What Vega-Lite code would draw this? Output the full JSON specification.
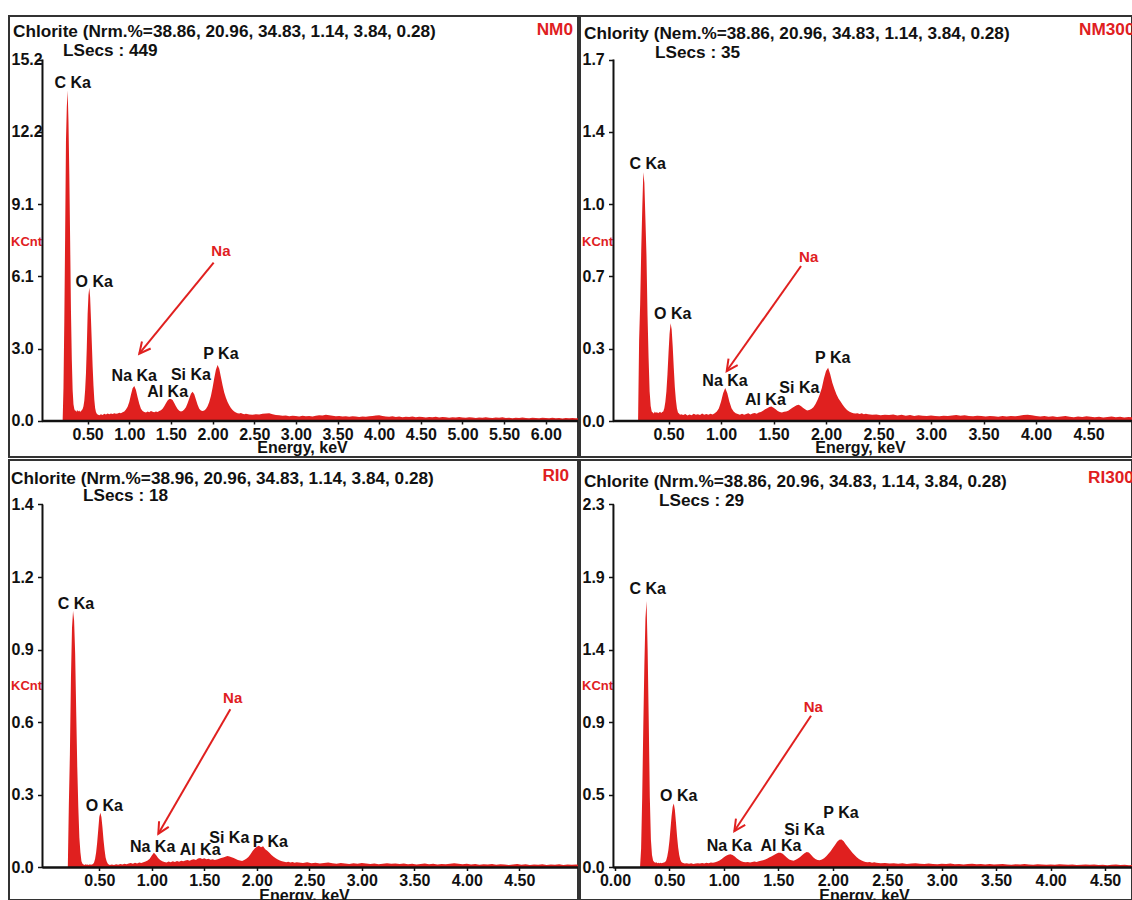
{
"$schema": "https://vega.github.io/schema/vega-lite/v6.json",
"padding": {"left": 8, "top": 15, "right": 0, "bottom": 0},
"background": "white",
"config": {
  "font": "Liberation Sans",
  "view": {"stroke": "#333333", "strokeWidth": 2},
  "axis": {"grid": false, "domain": false, "labelFont": "Liberation Sans", "labelFontSize": 16, "labelFontWeight": "bold", "labelColor": "#111111", "tickColor": "#111111", "tickWidth": 1.5, "labelFlush": false, "labelOverlap": false, "titleFont": "Liberation Sans", "titleFontWeight": "bold"},
  "axisX": {"tickSize": 3, "labelPadding": 2, "format": ".2f", "titleFontSize": 16, "titleColor": "#111111", "titlePadding": -3},
  "axisY": {"tickSize": 5, "labelAlign": "left", "labelPadding": 26.5, "labelBaseline": "middle", "format": ".1f", "titleAngle": 0, "titleAlign": "left", "titleBaseline": "middle", "titleColor": "#e0201f", "titleFontSize": 13},
  "text": {"font": "Liberation Sans", "fontWeight": "bold"}
},
"datasets": {
"s1": [{"e":0.2,"c":0},{"e":0.21,"c":1.4},{"e":0.22,"c":4.2},{"e":0.23,"c":7.8},{"e":0.24,"c":11.8},{"e":0.25,"c":13.2},{"e":0.26,"c":13.9},{"e":0.27,"c":12.6},{"e":0.28,"c":10.4},{"e":0.29,"c":7.6},{"e":0.3,"c":4.6},{"e":0.31,"c":2.6},{"e":0.32,"c":1.3},{"e":0.33,"c":0.7},{"e":0.34,"c":0.5},{"e":0.35,"c":0.42},{"e":0.36,"c":0.45},{"e":0.37,"c":0.38},{"e":0.38,"c":0.46},{"e":0.39,"c":0.4},{"e":0.4,"c":0.44},{"e":0.41,"c":0.38},{"e":0.42,"c":0.42},{"e":0.43,"c":0.45},{"e":0.44,"c":0.5},{"e":0.45,"c":0.62},{"e":0.46,"c":0.85},{"e":0.47,"c":1.3},{"e":0.48,"c":2},{"e":0.49,"c":3.1},{"e":0.5,"c":4.5},{"e":0.51,"c":5.3},{"e":0.52,"c":5.6},{"e":0.53,"c":5.2},{"e":0.54,"c":4.3},{"e":0.55,"c":3.3},{"e":0.56,"c":2.3},{"e":0.57,"c":1.5},{"e":0.58,"c":0.9},{"e":0.59,"c":0.55},{"e":0.6,"c":0.38},{"e":0.61,"c":0.3},{"e":0.62,"c":0.27},
{"e":0.64,"c":0.24},{"e":0.66,"c":0.28},{"e":0.68,"c":0.25},{"e":0.7,"c":0.3},{"e":0.72,"c":0.27},{"e":0.74,"c":0.31},{"e":0.76,"c":0.28},{"e":0.78,"c":0.32},{"e":0.8,"c":0.29},{"e":0.82,"c":0.33},{"e":0.84,"c":0.3},{"e":0.86,"c":0.32},{"e":0.88,"c":0.35},{"e":0.9,"c":0.33},{"e":0.92,"c":0.37},{"e":0.94,"c":0.4},{"e":0.96,"c":0.48},{"e":0.98,"c":0.6},{"e":1.0,"c":0.8},{"e":1.02,"c":1.1},{"e":1.04,"c":1.38},{"e":1.06,"c":1.47},{"e":1.08,"c":1.3},{"e":1.1,"c":1.0},{"e":1.12,"c":0.72},{"e":1.14,"c":0.52},{"e":1.16,"c":0.42},{"e":1.18,"c":0.38},{"e":1.2,"c":0.36},{"e":1.22,"c":0.4},{"e":1.24,"c":0.37},{"e":1.26,"c":0.42},{"e":1.28,"c":0.39},{"e":1.3,"c":0.37},{"e":1.32,"c":0.4},{"e":1.34,"c":0.38},{"e":1.36,"c":0.42},{"e":1.38,"c":0.45},{"e":1.4,"c":0.52},{"e":1.42,"c":0.62},{"e":1.44,"c":0.75},{"e":1.46,"c":0.86},{"e":1.48,"c":0.92},{"e":1.5,"c":0.93},{"e":1.52,"c":0.88},{"e":1.54,"c":0.76},{"e":1.56,"c":0.62},{"e":1.58,"c":0.5},{"e":1.6,"c":0.43},{"e":1.62,"c":0.4},{"e":1.64,"c":0.42},{"e":1.66,"c":0.48},{"e":1.68,"c":0.58},{"e":1.7,"c":0.75},{"e":1.72,"c":0.95},{"e":1.74,"c":1.15},{"e":1.76,"c":1.23},{"e":1.78,"c":1.12},{"e":1.8,"c":0.9},{"e":1.82,"c":0.68},{"e":1.84,"c":0.52},{"e":1.86,"c":0.44},{"e":1.88,"c":0.42},{"e":1.9,"c":0.44},{"e":1.92,"c":0.5},{"e":1.94,"c":0.62},{"e":1.96,"c":0.8},{"e":1.98,"c":1.05},{"e":2.0,"c":1.4},{"e":2.02,"c":1.8},{"e":2.04,"c":2.15},{"e":2.06,"c":2.35},{"e":2.08,"c":2.2},{"e":2.1,"c":1.85},{"e":2.12,"c":1.5},{"e":2.14,"c":1.2},{"e":2.16,"c":0.98},{"e":2.18,"c":0.8},{"e":2.2,"c":0.66},{"e":2.22,"c":0.55},{"e":2.24,"c":0.46},{"e":2.26,"c":0.4},{"e":2.28,"c":0.36},{"e":2.3,"c":0.33},{"e":2.32,"c":0.31},{"e":2.34,"c":0.34},{"e":2.36,"c":0.3},{"e":2.38,"c":0.28},
{"e":2.4,"c":0.3},{"e":2.44,"c":0.27},{"e":2.48,"c":0.26},{"e":2.52,"c":0.28},{"e":2.56,"c":0.27},{"e":2.6,"c":0.3},{"e":2.64,"c":0.31},{"e":2.68,"c":0.33},{"e":2.72,"c":0.28},{"e":2.76,"c":0.25},{"e":2.8,"c":0.24},{"e":2.84,"c":0.22},{"e":2.88,"c":0.23},{"e":2.92,"c":0.2},{"e":2.96,"c":0.22},{"e":3.0,"c":0.21},{"e":3.04,"c":0.19},{"e":3.08,"c":0.22},{"e":3.12,"c":0.2},{"e":3.16,"c":0.21},{"e":3.2,"c":0.19},{"e":3.24,"c":0.22},{"e":3.28,"c":0.24},{"e":3.32,"c":0.23},{"e":3.36,"c":0.26},{"e":3.4,"c":0.24},{"e":3.44,"c":0.22},{"e":3.48,"c":0.2},{"e":3.52,"c":0.21},{"e":3.56,"c":0.19},{"e":3.6,"c":0.2},{"e":3.64,"c":0.18},{"e":3.68,"c":0.2},{"e":3.72,"c":0.19},{"e":3.76,"c":0.17},{"e":3.8,"c":0.19},{"e":3.84,"c":0.18},{"e":3.88,"c":0.2},{"e":3.92,"c":0.21},{"e":3.96,"c":0.23},{"e":4.0,"c":0.24},{"e":4.04,"c":0.21},{"e":4.08,"c":0.19},{"e":4.12,"c":0.18},{"e":4.16,"c":0.2},{"e":4.2,"c":0.17},{"e":4.24,"c":0.19},{"e":4.28,"c":0.16},{"e":4.32,"c":0.18},{"e":4.36,"c":0.17},{"e":4.4,"c":0.19},{"e":4.44,"c":0.16},{"e":4.48,"c":0.18},{"e":4.52,"c":0.17},{"e":4.56,"c":0.15},{"e":4.6,"c":0.17},{"e":4.64,"c":0.16},{"e":4.68,"c":0.18},{"e":4.72,"c":0.15},{"e":4.76,"c":0.17},{"e":4.8,"c":0.16},{"e":4.84,"c":0.14},{"e":4.88,"c":0.16},{"e":4.92,"c":0.15},{"e":4.96,"c":0.17},{"e":5.0,"c":0.15},{"e":5.04,"c":0.14},{"e":5.08,"c":0.16},{"e":5.12,"c":0.15},{"e":5.16,"c":0.13},{"e":5.2,"c":0.15},{"e":5.24,"c":0.14},{"e":5.28,"c":0.16},{"e":5.32,"c":0.14},{"e":5.36,"c":0.13},{"e":5.4,"c":0.15},{"e":5.44,"c":0.14},{"e":5.48,"c":0.16},{"e":5.52,"c":0.13},{"e":5.56,"c":0.14},{"e":5.6,"c":0.12},{"e":5.64,"c":0.14},{"e":5.68,"c":0.13},{"e":5.72,"c":0.15},{"e":5.76,"c":0.13},{"e":5.8,"c":0.12},{"e":5.84,"c":0.14},{"e":5.88,"c":0.13},{"e":5.92,"c":0.12},{"e":5.96,"c":0.14},{"e":6.0,"c":0.13},{"e":6.04,"c":0.12},{"e":6.08,"c":0.14},{"e":6.12,"c":0.12},{"e":6.16,"c":0.13},{"e":6.2,"c":0.11},{"e":6.24,"c":0.13},{"e":6.28,"c":0.12},{"e":6.32,"c":0.13},{"e":6.36,"c":0.12},{"e":6.4,"c":0.12}],
"s2": [{"e":0.21,"c":0},{"e":0.22,"c":0.38},{"e":0.23,"c":0.55},{"e":0.24,"c":0.8},{"e":0.25,"c":1.0},{"e":0.26,"c":1.17},{"e":0.27,"c":1.12},{"e":0.28,"c":0.95},{"e":0.29,"c":0.78},{"e":0.3,"c":0.5},{"e":0.31,"c":0.3},{"e":0.32,"c":0.14},{"e":0.33,"c":0.07},{"e":0.34,"c":0.045},{"e":0.35,"c":0.04},{"e":0.36,"c":0.035},{"e":0.37,"c":0.045},{"e":0.38,"c":0.038},{"e":0.39,"c":0.042},{"e":0.4,"c":0.036},{"e":0.41,"c":0.04},{"e":0.42,"c":0.043},{"e":0.43,"c":0.038},{"e":0.44,"c":0.042},{"e":0.45,"c":0.045},{"e":0.46,"c":0.06},{"e":0.47,"c":0.09},{"e":0.48,"c":0.14},{"e":0.49,"c":0.22},{"e":0.5,"c":0.32},{"e":0.51,"c":0.41},{"e":0.52,"c":0.46},{"e":0.53,"c":0.43},{"e":0.54,"c":0.35},{"e":0.55,"c":0.25},{"e":0.56,"c":0.16},{"e":0.57,"c":0.1},{"e":0.58,"c":0.06},{"e":0.59,"c":0.04},{"e":0.6,"c":0.035},{"e":0.61,"c":0.03},{"e":0.62,"c":0.032},
{"e":0.64,"c":0.028},{"e":0.66,"c":0.033},{"e":0.68,"c":0.026},{"e":0.7,"c":0.031},{"e":0.72,"c":0.027},{"e":0.74,"c":0.034},{"e":0.76,"c":0.029},{"e":0.78,"c":0.032},{"e":0.8,"c":0.028},{"e":0.82,"c":0.035},{"e":0.84,"c":0.03},{"e":0.86,"c":0.033},{"e":0.88,"c":0.029},{"e":0.9,"c":0.034},{"e":0.92,"c":0.031},{"e":0.94,"c":0.036},{"e":0.96,"c":0.045},{"e":0.98,"c":0.06},{"e":1.0,"c":0.09},{"e":1.02,"c":0.13},{"e":1.04,"c":0.155},{"e":1.06,"c":0.13},{"e":1.08,"c":0.09},{"e":1.1,"c":0.06},{"e":1.12,"c":0.045},{"e":1.14,"c":0.036},{"e":1.16,"c":0.033},{"e":1.18,"c":0.03},{"e":1.2,"c":0.034},{"e":1.22,"c":0.029},{"e":1.24,"c":0.033},{"e":1.26,"c":0.036},{"e":1.28,"c":0.031},{"e":1.3,"c":0.035},{"e":1.32,"c":0.038},{"e":1.34,"c":0.034},{"e":1.36,"c":0.04},{"e":1.38,"c":0.042},{"e":1.4,"c":0.048},{"e":1.42,"c":0.055},{"e":1.44,"c":0.06},{"e":1.46,"c":0.066},{"e":1.48,"c":0.068},{"e":1.5,"c":0.062},{"e":1.52,"c":0.055},{"e":1.54,"c":0.047},{"e":1.56,"c":0.042},{"e":1.58,"c":0.04},{"e":1.6,"c":0.043},{"e":1.62,"c":0.045},{"e":1.64,"c":0.048},{"e":1.66,"c":0.055},{"e":1.68,"c":0.062},{"e":1.7,"c":0.068},{"e":1.72,"c":0.074},{"e":1.74,"c":0.076},{"e":1.76,"c":0.07},{"e":1.78,"c":0.062},{"e":1.8,"c":0.055},{"e":1.82,"c":0.05},{"e":1.84,"c":0.052},{"e":1.86,"c":0.056},{"e":1.88,"c":0.065},{"e":1.9,"c":0.08},{"e":1.92,"c":0.1},{"e":1.94,"c":0.125},{"e":1.96,"c":0.155},{"e":1.98,"c":0.2},{"e":2.0,"c":0.235},{"e":2.02,"c":0.25},{"e":2.04,"c":0.22},{"e":2.06,"c":0.18},{"e":2.08,"c":0.15},{"e":2.1,"c":0.125},{"e":2.12,"c":0.105},{"e":2.14,"c":0.09},{"e":2.16,"c":0.075},{"e":2.18,"c":0.062},{"e":2.2,"c":0.052},{"e":2.22,"c":0.045},{"e":2.24,"c":0.04},{"e":2.26,"c":0.037},{"e":2.28,"c":0.035},{"e":2.3,"c":0.036},{"e":2.32,"c":0.033},{"e":2.34,"c":0.036},{"e":2.36,"c":0.032},{"e":2.38,"c":0.034},
{"e":2.4,"c":0.032},{"e":2.44,"c":0.029},{"e":2.48,"c":0.031},{"e":2.52,"c":0.027},{"e":2.56,"c":0.03},{"e":2.6,"c":0.028},{"e":2.64,"c":0.031},{"e":2.68,"c":0.026},{"e":2.72,"c":0.029},{"e":2.76,"c":0.025},{"e":2.8,"c":0.028},{"e":2.84,"c":0.024},{"e":2.88,"c":0.027},{"e":2.92,"c":0.025},{"e":2.96,"c":0.023},{"e":3.0,"c":0.026},{"e":3.04,"c":0.024},{"e":3.08,"c":0.022},{"e":3.12,"c":0.025},{"e":3.16,"c":0.023},{"e":3.2,"c":0.026},{"e":3.24,"c":0.028},{"e":3.28,"c":0.025},{"e":3.32,"c":0.027},{"e":3.36,"c":0.024},{"e":3.4,"c":0.022},{"e":3.44,"c":0.025},{"e":3.48,"c":0.023},{"e":3.52,"c":0.021},{"e":3.56,"c":0.024},{"e":3.6,"c":0.022},{"e":3.64,"c":0.02},{"e":3.68,"c":0.023},{"e":3.72,"c":0.021},{"e":3.76,"c":0.024},{"e":3.8,"c":0.022},{"e":3.84,"c":0.025},{"e":3.88,"c":0.028},{"e":3.92,"c":0.03},{"e":3.96,"c":0.027},{"e":4.0,"c":0.024},{"e":4.04,"c":0.021},{"e":4.08,"c":0.023},{"e":4.12,"c":0.02},{"e":4.16,"c":0.022},{"e":4.2,"c":0.019},{"e":4.24,"c":0.021},{"e":4.28,"c":0.023},{"e":4.32,"c":0.02},{"e":4.36,"c":0.018},{"e":4.4,"c":0.021},{"e":4.44,"c":0.019},{"e":4.48,"c":0.022},{"e":4.52,"c":0.02},{"e":4.56,"c":0.018},{"e":4.6,"c":0.02},{"e":4.64,"c":0.017},{"e":4.68,"c":0.019},{"e":4.72,"c":0.021},{"e":4.76,"c":0.018},{"e":4.8,"c":0.02},{"e":4.84,"c":0.017},{"e":4.88,"c":0.019},{"e":4.92,"c":0.018}],
"s3": [{"e":0.2,"c":0},{"e":0.21,"c":0.25},{"e":0.22,"c":0.45},{"e":0.23,"c":0.75},{"e":0.24,"c":0.95},{"e":0.25,"c":1.017},{"e":0.26,"c":0.98},{"e":0.27,"c":0.85},{"e":0.28,"c":0.62},{"e":0.29,"c":0.4},{"e":0.3,"c":0.24},{"e":0.31,"c":0.12},{"e":0.32,"c":0.06},{"e":0.33,"c":0.025},{"e":0.34,"c":0.015},{"e":0.35,"c":0.012},{"e":0.36,"c":0.01},{"e":0.37,"c":0.013},{"e":0.38,"c":0.011},{"e":0.39,"c":0.012},{"e":0.4,"c":0.01},{"e":0.41,"c":0.013},{"e":0.42,"c":0.011},{"e":0.43,"c":0.012},{"e":0.44,"c":0.014},{"e":0.45,"c":0.02},{"e":0.46,"c":0.035},{"e":0.47,"c":0.06},{"e":0.48,"c":0.1},{"e":0.49,"c":0.15},{"e":0.5,"c":0.2},{"e":0.51,"c":0.217},{"e":0.52,"c":0.2},{"e":0.53,"c":0.16},{"e":0.54,"c":0.11},{"e":0.55,"c":0.07},{"e":0.56,"c":0.04},{"e":0.57,"c":0.025},{"e":0.58,"c":0.016},{"e":0.59,"c":0.012},{"e":0.6,"c":0.01},{"e":0.61,"c":0.011},{"e":0.62,"c":0.012},
{"e":0.64,"c":0.01},{"e":0.66,"c":0.013},{"e":0.68,"c":0.011},{"e":0.7,"c":0.014},{"e":0.72,"c":0.012},{"e":0.74,"c":0.015},{"e":0.76,"c":0.013},{"e":0.78,"c":0.016},{"e":0.8,"c":0.018},{"e":0.82,"c":0.015},{"e":0.84,"c":0.019},{"e":0.86,"c":0.016},{"e":0.88,"c":0.02},{"e":0.9,"c":0.018},{"e":0.92,"c":0.021},{"e":0.94,"c":0.024},{"e":0.96,"c":0.028},{"e":0.98,"c":0.035},{"e":1.0,"c":0.048},{"e":1.02,"c":0.058},{"e":1.04,"c":0.05},{"e":1.06,"c":0.038},{"e":1.08,"c":0.03},{"e":1.1,"c":0.025},{"e":1.12,"c":0.022},{"e":1.14,"c":0.02},{"e":1.16,"c":0.024},{"e":1.18,"c":0.021},{"e":1.2,"c":0.025},{"e":1.22,"c":0.022},{"e":1.24,"c":0.026},{"e":1.26,"c":0.023},{"e":1.28,"c":0.027},{"e":1.3,"c":0.025},{"e":1.32,"c":0.028},{"e":1.34,"c":0.03},{"e":1.36,"c":0.027},{"e":1.38,"c":0.031},{"e":1.4,"c":0.033},{"e":1.42,"c":0.03},{"e":1.44,"c":0.036},{"e":1.46,"c":0.038},{"e":1.48,"c":0.034},{"e":1.5,"c":0.037},{"e":1.52,"c":0.033},{"e":1.54,"c":0.035},{"e":1.56,"c":0.031},{"e":1.58,"c":0.033},{"e":1.6,"c":0.03},{"e":1.62,"c":0.032},{"e":1.64,"c":0.035},{"e":1.66,"c":0.038},{"e":1.68,"c":0.04},{"e":1.7,"c":0.043},{"e":1.72,"c":0.046},{"e":1.74,"c":0.044},{"e":1.76,"c":0.041},{"e":1.78,"c":0.038},{"e":1.8,"c":0.034},{"e":1.82,"c":0.03},{"e":1.84,"c":0.028},{"e":1.86,"c":0.026},{"e":1.88,"c":0.03},{"e":1.9,"c":0.035},{"e":1.92,"c":0.042},{"e":1.94,"c":0.052},{"e":1.96,"c":0.065},{"e":1.98,"c":0.075},{"e":2.0,"c":0.082},{"e":2.02,"c":0.086},{"e":2.04,"c":0.08},{"e":2.06,"c":0.084},{"e":2.08,"c":0.072},{"e":2.1,"c":0.066},{"e":2.12,"c":0.058},{"e":2.14,"c":0.05},{"e":2.16,"c":0.043},{"e":2.18,"c":0.037},{"e":2.2,"c":0.032},{"e":2.22,"c":0.028},{"e":2.24,"c":0.025},{"e":2.26,"c":0.023},{"e":2.28,"c":0.021},{"e":2.3,"c":0.023},{"e":2.32,"c":0.02},{"e":2.34,"c":0.022},{"e":2.36,"c":0.019},{"e":2.38,"c":0.021},
{"e":2.4,"c":0.02},{"e":2.44,"c":0.018},{"e":2.48,"c":0.021},{"e":2.52,"c":0.017},{"e":2.56,"c":0.019},{"e":2.6,"c":0.016},{"e":2.64,"c":0.018},{"e":2.68,"c":0.02},{"e":2.72,"c":0.017},{"e":2.76,"c":0.015},{"e":2.8,"c":0.018},{"e":2.84,"c":0.016},{"e":2.88,"c":0.014},{"e":2.92,"c":0.017},{"e":2.96,"c":0.015},{"e":3.0,"c":0.018},{"e":3.04,"c":0.016},{"e":3.08,"c":0.014},{"e":3.12,"c":0.016},{"e":3.16,"c":0.013},{"e":3.2,"c":0.015},{"e":3.24,"c":0.017},{"e":3.28,"c":0.015},{"e":3.32,"c":0.016},{"e":3.36,"c":0.014},{"e":3.4,"c":0.016},{"e":3.44,"c":0.013},{"e":3.48,"c":0.015},{"e":3.52,"c":0.012},{"e":3.56,"c":0.014},{"e":3.6,"c":0.016},{"e":3.64,"c":0.013},{"e":3.68,"c":0.015},{"e":3.72,"c":0.012},{"e":3.76,"c":0.014},{"e":3.8,"c":0.013},{"e":3.84,"c":0.015},{"e":3.88,"c":0.017},{"e":3.92,"c":0.015},{"e":3.96,"c":0.013},{"e":4.0,"c":0.015},{"e":4.04,"c":0.012},{"e":4.08,"c":0.014},{"e":4.12,"c":0.011},{"e":4.16,"c":0.013},{"e":4.2,"c":0.012},{"e":4.24,"c":0.014},{"e":4.28,"c":0.011},{"e":4.32,"c":0.013},{"e":4.36,"c":0.012},{"e":4.4,"c":0.01},{"e":4.44,"c":0.012},{"e":4.48,"c":0.014},{"e":4.52,"c":0.011},{"e":4.56,"c":0.013},{"e":4.6,"c":0.01},{"e":4.64,"c":0.012},{"e":4.68,"c":0.011},{"e":4.72,"c":0.013},{"e":4.76,"c":0.01},{"e":4.8,"c":0.012},{"e":4.84,"c":0.011},{"e":4.88,"c":0.013},{"e":4.92,"c":0.01},{"e":4.96,"c":0.012},{"e":5.0,"c":0.011},{"e":5.04,"c":0.012},{"e":5.08,"c":0.01}],
"s4": [{"e":0.23,"c":0},{"e":0.24,"c":0.12},{"e":0.25,"c":0.45},{"e":0.26,"c":0.9},{"e":0.27,"c":1.3},{"e":0.28,"c":1.6},{"e":0.29,"c":1.71},{"e":0.3,"c":1.4},{"e":0.31,"c":0.95},{"e":0.32,"c":0.45},{"e":0.33,"c":0.18},{"e":0.34,"c":0.08},{"e":0.35,"c":0.045},{"e":0.36,"c":0.035},{"e":0.37,"c":0.03},{"e":0.38,"c":0.033},{"e":0.39,"c":0.028},{"e":0.4,"c":0.031},{"e":0.41,"c":0.027},{"e":0.42,"c":0.03},{"e":0.43,"c":0.028},{"e":0.44,"c":0.03},{"e":0.45,"c":0.032},{"e":0.46,"c":0.035},{"e":0.47,"c":0.045},{"e":0.48,"c":0.07},{"e":0.49,"c":0.11},{"e":0.5,"c":0.17},{"e":0.51,"c":0.25},{"e":0.52,"c":0.33},{"e":0.53,"c":0.39},{"e":0.54,"c":0.41},{"e":0.55,"c":0.37},{"e":0.56,"c":0.29},{"e":0.57,"c":0.2},{"e":0.58,"c":0.13},{"e":0.59,"c":0.08},{"e":0.6,"c":0.05},{"e":0.61,"c":0.035},{"e":0.62,"c":0.03},
{"e":0.64,"c":0.025},{"e":0.66,"c":0.028},{"e":0.68,"c":0.024},{"e":0.7,"c":0.027},{"e":0.72,"c":0.023},{"e":0.74,"c":0.026},{"e":0.76,"c":0.028},{"e":0.78,"c":0.025},{"e":0.8,"c":0.029},{"e":0.82,"c":0.026},{"e":0.84,"c":0.03},{"e":0.86,"c":0.028},{"e":0.88,"c":0.032},{"e":0.9,"c":0.03},{"e":0.92,"c":0.034},{"e":0.94,"c":0.038},{"e":0.96,"c":0.045},{"e":0.98,"c":0.055},{"e":1.0,"c":0.066},{"e":1.02,"c":0.076},{"e":1.04,"c":0.082},{"e":1.06,"c":0.085},{"e":1.08,"c":0.08},{"e":1.1,"c":0.07},{"e":1.12,"c":0.058},{"e":1.14,"c":0.048},{"e":1.16,"c":0.04},{"e":1.18,"c":0.036},{"e":1.2,"c":0.033},{"e":1.22,"c":0.036},{"e":1.24,"c":0.032},{"e":1.26,"c":0.035},{"e":1.28,"c":0.038},{"e":1.3,"c":0.036},{"e":1.32,"c":0.04},{"e":1.34,"c":0.043},{"e":1.36,"c":0.047},{"e":1.38,"c":0.052},{"e":1.4,"c":0.058},{"e":1.42,"c":0.065},{"e":1.44,"c":0.072},{"e":1.46,"c":0.08},{"e":1.48,"c":0.088},{"e":1.5,"c":0.094},{"e":1.52,"c":0.095},{"e":1.54,"c":0.088},{"e":1.56,"c":0.076},{"e":1.58,"c":0.063},{"e":1.6,"c":0.052},{"e":1.62,"c":0.046},{"e":1.64,"c":0.044},{"e":1.66,"c":0.05},{"e":1.68,"c":0.058},{"e":1.7,"c":0.068},{"e":1.72,"c":0.08},{"e":1.74,"c":0.092},{"e":1.76,"c":0.1},{"e":1.78,"c":0.096},{"e":1.8,"c":0.082},{"e":1.82,"c":0.066},{"e":1.84,"c":0.054},{"e":1.86,"c":0.048},{"e":1.88,"c":0.047},{"e":1.9,"c":0.052},{"e":1.92,"c":0.06},{"e":1.94,"c":0.072},{"e":1.96,"c":0.088},{"e":1.98,"c":0.105},{"e":2.0,"c":0.125},{"e":2.02,"c":0.145},{"e":2.04,"c":0.165},{"e":2.06,"c":0.178},{"e":2.08,"c":0.18},{"e":2.1,"c":0.168},{"e":2.12,"c":0.148},{"e":2.14,"c":0.13},{"e":2.16,"c":0.112},{"e":2.18,"c":0.095},{"e":2.2,"c":0.08},{"e":2.22,"c":0.066},{"e":2.24,"c":0.055},{"e":2.26,"c":0.046},{"e":2.28,"c":0.04},{"e":2.3,"c":0.036},{"e":2.32,"c":0.033},{"e":2.34,"c":0.036},{"e":2.36,"c":0.031},{"e":2.38,"c":0.034},
{"e":2.4,"c":0.03},{"e":2.44,"c":0.027},{"e":2.48,"c":0.029},{"e":2.52,"c":0.025},{"e":2.56,"c":0.028},{"e":2.6,"c":0.024},{"e":2.64,"c":0.027},{"e":2.68,"c":0.023},{"e":2.72,"c":0.026},{"e":2.76,"c":0.028},{"e":2.8,"c":0.024},{"e":2.84,"c":0.022},{"e":2.88,"c":0.025},{"e":2.92,"c":0.023},{"e":2.96,"c":0.021},{"e":3.0,"c":0.024},{"e":3.04,"c":0.022},{"e":3.08,"c":0.025},{"e":3.12,"c":0.021},{"e":3.16,"c":0.023},{"e":3.2,"c":0.02},{"e":3.24,"c":0.022},{"e":3.28,"c":0.024},{"e":3.32,"c":0.021},{"e":3.36,"c":0.023},{"e":3.4,"c":0.02},{"e":3.44,"c":0.022},{"e":3.48,"c":0.019},{"e":3.52,"c":0.021},{"e":3.56,"c":0.023},{"e":3.6,"c":0.02},{"e":3.64,"c":0.018},{"e":3.68,"c":0.021},{"e":3.72,"c":0.019},{"e":3.76,"c":0.022},{"e":3.8,"c":0.02},{"e":3.84,"c":0.018},{"e":3.88,"c":0.021},{"e":3.92,"c":0.019},{"e":3.96,"c":0.017},{"e":4.0,"c":0.02},{"e":4.04,"c":0.018},{"e":4.08,"c":0.021},{"e":4.12,"c":0.019},{"e":4.16,"c":0.017},{"e":4.2,"c":0.019},{"e":4.24,"c":0.016},{"e":4.28,"c":0.018},{"e":4.32,"c":0.02},{"e":4.36,"c":0.017},{"e":4.4,"c":0.019},{"e":4.44,"c":0.016},{"e":4.48,"c":0.018},{"e":4.52,"c":0.015},{"e":4.56,"c":0.017},{"e":4.6,"c":0.019},{"e":4.64,"c":0.016},{"e":4.68,"c":0.018},{"e":4.72,"c":0.015},{"e":4.76,"c":0.017}],
"peaks": [
{"p":"NM0","t":"C Ka","e":0.32,"c":14.23},{"p":"NM0","t":"O Ka","e":0.58,"c":5.86},{"p":"NM0","t":"Na Ka","e":1.06,"c":1.89},{"p":"NM0","t":"Al Ka","e":1.46,"c":1.23},{"p":"NM0","t":"Si Ka","e":1.74,"c":1.92},{"p":"NM0","t":"P Ka","e":2.1,"c":2.83},
{"p":"NM300","t":"C Ka","e":0.302,"c":1.207},{"p":"NM300","t":"O Ka","e":0.54,"c":0.502},{"p":"NM300","t":"Na Ka","e":1.038,"c":0.188},{"p":"NM300","t":"Al Ka","e":1.422,"c":0.097},{"p":"NM300","t":"Si Ka","e":1.746,"c":0.154},{"p":"NM300","t":"P Ka","e":2.064,"c":0.295},
{"p":"RI0","t":"C Ka","e":0.278,"c":1.046},{"p":"RI0","t":"O Ka","e":0.548,"c":0.244},{"p":"RI0","t":"Na Ka","e":1.008,"c":0.083},{"p":"RI0","t":"Al Ka","e":1.46,"c":0.068},{"p":"RI0","t":"Si Ka","e":1.738,"c":0.118},{"p":"RI0","t":"P Ka","e":2.129,"c":0.102},
{"p":"RI300","t":"C Ka","e":0.3,"c":1.786},{"p":"RI300","t":"O Ka","e":0.585,"c":0.459},{"p":"RI300","t":"Na Ka","e":1.05,"c":0.138},{"p":"RI300","t":"Al Ka","e":1.524,"c":0.138},{"p":"RI300","t":"Si Ka","e":1.738,"c":0.239},{"p":"RI300","t":"P Ka","e":2.075,"c":0.352}],
"arrows": [
{"p":"NM0","e":2.013,"c":6.657,"e2":1.12,"c2":2.83,"le":2.1,"lc":7.15},
{"p":"NM300","e":1.762,"c":0.729,"e2":1.054,"c2":0.235,"le":1.835,"lc":0.771},
{"p":"RI0","e":1.748,"c":0.628,"e2":1.062,"c2":0.134,"le":1.77,"lc":0.671},
{"p":"RI300","e":1.8,"c":0.974,"e2":1.096,"c2":0.234,"le":1.821,"lc":1.031}],
"titles": [
{"p":"NM0","title":"Chlorite (Nrm.%=38.86, 20.96, 34.83, 1.14, 3.84, 0.28)","lsecs":"LSecs : 449","tag":"NM0"},
{"p":"NM300","title":"Chlority (Nem.%=38.86, 20.96, 34.83, 1.14, 3.84, 0.28)","lsecs":"LSecs : 35","tag":"NM300"},
{"p":"RI0","title":"Chlorite (Nrm.%=38.96, 20.96, 34.83, 1.14, 3.84, 0.28)","lsecs":"LSecs :  18","tag":"RI0"},
{"p":"RI300","title":"Chlorite (Nrm.%=38.86, 20.96, 34.83, 1.14, 3.84, 0.28)","lsecs":"LSecs : 29","tag":"RI300"}]
},
"spacing": 1,
"vconcat": [
{"spacing": 2, "bounds": "flush", "hconcat": [
{"width": 569, "height": 441, "layer": [
 {"data": {"name": "s1"}, "mark": {"type": "area", "color": "#e0201f", "clip": true},
  "encoding": {
   "x": {"field": "e", "type": "quantitative", "scale": {"domain": [-0.444, 6.387], "nice": false, "zero": false}, "axis": {"values": [0.5,1,1.5,2,2.5,3,3.5,4,4.5,5,5.5,6], "offset": -36, "title": "Energy, keV", "titleX": 293}},
   "y": {"field": "c", "type": "quantitative", "scale": {"domain": [-1.514, 17.03], "nice": false, "zero": false}, "axis": {"values": [0,3.04,6.08,9.12,12.16,15.2], "offset": -33.5, "title": "KCnt", "titleX": -32, "titleY": 225}},
   "y2": {"datum": 0}}},
 {"data": {"values": [{}]}, "mark": {"type": "rule", "color": "#111111", "strokeWidth": 2}, "encoding": {"x": {"datum": -0.042}, "y": {"datum": 0}, "y2": {"datum": 15.2}}},
 {"data": {"values": [{}]}, "mark": {"type": "rule", "color": "#111111", "strokeWidth": 2.5}, "encoding": {"x": {"datum": -0.042}, "x2": {"datum": 6.387}, "y": {"datum": 0}}},
 {"data": {"name": "peaks"}, "transform": [{"filter": "datum.p === 'NM0'"}], "mark": {"type": "text", "fontSize": 16, "fontWeight": "bold", "color": "#111111"}, "encoding": {"x": {"field": "e", "type": "quantitative"}, "y": {"field": "c", "type": "quantitative"}, "text": {"field": "t"}}},
 {"data": {"name": "arrows"}, "transform": [{"filter": "datum.p === 'NM0'"}], "mark": {"type": "rule", "color": "#e0201f", "strokeWidth": 2}, "encoding": {"x": {"field": "e", "type": "quantitative"}, "y": {"field": "c", "type": "quantitative"}, "x2": {"field": "e2"}, "y2": {"field": "c2"}}},
 {"data": {"name": "arrows"}, "transform": [{"filter": "datum.p === 'NM0'"}], "mark": {"type": "point", "shape": "M-0.5,1L0,0L0.5,1", "filled": false, "color": "#e0201f", "strokeWidth": 2, "size": 500, "angle": 219, "opacity": 1}, "encoding": {"x": {"field": "e2", "type": "quantitative"}, "y": {"field": "c2", "type": "quantitative"}}},
 {"data": {"name": "arrows"}, "transform": [{"filter": "datum.p === 'NM0'"}], "mark": {"type": "text", "fontSize": 15, "fontWeight": "bold", "color": "#e0201f"}, "encoding": {"x": {"field": "le", "type": "quantitative"}, "y": {"field": "lc", "type": "quantitative"}, "text": {"value": "Na"}}},
 {"data": {"name": "titles"}, "transform": [{"filter": "datum.p === 'NM0'"}], "mark": {"type": "text", "align": "left", "fontSize": 17.2, "fontWeight": "bold", "color": "#111111"}, "encoding": {"x": {"datum": -0.396}, "y": {"datum": 16.36}, "text": {"field": "title"}}},
 {"data": {"name": "titles"}, "transform": [{"filter": "datum.p === 'NM0'"}], "mark": {"type": "text", "align": "left", "fontSize": 17.2, "fontWeight": "bold", "color": "#111111"}, "encoding": {"x": {"datum": 0.204}, "y": {"datum": 15.56}, "text": {"field": "lsecs"}}},
 {"data": {"name": "titles"}, "transform": [{"filter": "datum.p === 'NM0'"}], "mark": {"type": "text", "align": "right", "fontSize": 17.2, "fontWeight": "bold", "color": "#e0201f", "clip": true}, "encoding": {"x": {"datum": 6.327}, "y": {"datum": 16.44}, "text": {"field": "tag"}}}
]},
{"width": 552, "height": 441, "layer": [
 {"data": {"name": "s2"}, "mark": {"type": "area", "color": "#e0201f", "clip": true},
  "encoding": {
   "x": {"field": "e", "type": "quantitative", "scale": {"domain": [-0.343, 4.914], "nice": false, "zero": false}, "axis": {"values": [0.5,1,1.5,2,2.5,3,3.5,4,4.5], "offset": -36, "title": "Energy, keV", "titleX": 280}},
   "y": {"field": "c", "type": "quantitative", "scale": {"domain": [-0.1693, 1.905], "nice": false, "zero": false}, "axis": {"values": [0,0.34,0.68,1.02,1.36,1.7], "offset": -33.5, "title": "KCnt", "titleX": -32, "titleY": 225}},
   "y2": {"datum": 0}}},
 {"data": {"values": [{}]}, "mark": {"type": "rule", "color": "#111111", "strokeWidth": 2}, "encoding": {"x": {"datum": -0.024}, "y": {"datum": 0}, "y2": {"datum": 1.7}}},
 {"data": {"values": [{}]}, "mark": {"type": "rule", "color": "#111111", "strokeWidth": 2.5}, "encoding": {"x": {"datum": -0.024}, "x2": {"datum": 4.914}, "y": {"datum": 0}}},
 {"data": {"name": "peaks"}, "transform": [{"filter": "datum.p === 'NM300'"}], "mark": {"type": "text", "fontSize": 16, "fontWeight": "bold", "color": "#111111"}, "encoding": {"x": {"field": "e", "type": "quantitative"}, "y": {"field": "c", "type": "quantitative"}, "text": {"field": "t"}}},
 {"data": {"name": "arrows"}, "transform": [{"filter": "datum.p === 'NM300'"}], "mark": {"type": "rule", "color": "#e0201f", "strokeWidth": 2}, "encoding": {"x": {"field": "e", "type": "quantitative"}, "y": {"field": "c", "type": "quantitative"}, "x2": {"field": "e2"}, "y2": {"field": "c2"}}},
 {"data": {"name": "arrows"}, "transform": [{"filter": "datum.p === 'NM300'"}], "mark": {"type": "point", "shape": "M-0.5,1L0,0L0.5,1", "filled": false, "color": "#e0201f", "strokeWidth": 2, "size": 500, "angle": 215, "opacity": 1}, "encoding": {"x": {"field": "e2", "type": "quantitative"}, "y": {"field": "c2", "type": "quantitative"}}},
 {"data": {"name": "arrows"}, "transform": [{"filter": "datum.p === 'NM300'"}], "mark": {"type": "text", "fontSize": 15, "fontWeight": "bold", "color": "#e0201f"}, "encoding": {"x": {"field": "le", "type": "quantitative"}, "y": {"field": "lc", "type": "quantitative"}, "text": {"value": "Na"}}},
 {"data": {"name": "titles"}, "transform": [{"filter": "datum.p === 'NM300'"}], "mark": {"type": "text", "align": "left", "fontSize": 17.2, "fontWeight": "bold", "color": "#111111"}, "encoding": {"x": {"datum": -0.305}, "y": {"datum": 1.82}, "text": {"field": "title"}}},
 {"data": {"name": "titles"}, "transform": [{"filter": "datum.p === 'NM300'"}], "mark": {"type": "text", "align": "left", "fontSize": 17.2, "fontWeight": "bold", "color": "#111111"}, "encoding": {"x": {"datum": 0.371}, "y": {"datum": 1.731}, "text": {"field": "lsecs"}}},
 {"data": {"name": "titles"}, "transform": [{"filter": "datum.p === 'NM300'"}], "mark": {"type": "text", "align": "left", "fontSize": 17.2, "fontWeight": "bold", "color": "#e0201f", "clip": true}, "encoding": {"x": {"datum": 4.41}, "y": {"datum": 1.839}, "text": {"field": "tag"}}}
]}
]},
{"spacing": 2, "bounds": "flush", "hconcat": [
{"width": 569, "height": 440, "layer": [
 {"data": {"name": "s3"}, "mark": {"type": "area", "color": "#e0201f", "clip": true},
  "encoding": {
   "x": {"field": "e", "type": "quantitative", "scale": {"domain": [-0.36, 5.059], "nice": false, "zero": false}, "axis": {"values": [0.5,1,1.5,2,2.5,3,3.5,4,4.5], "offset": -32.5, "title": "Energy, keV", "titleX": 295, "titlePadding": -1}},
   "y": {"field": "c", "type": "quantitative", "scale": {"domain": [-0.129, 1.6164], "nice": false, "zero": false}, "axis": {"values": [0,0.288,0.576,0.864,1.152,1.44], "offset": -33.5, "title": "KCnt", "titleX": -32, "titleY": 225}},
   "y2": {"datum": 0}}},
 {"data": {"values": [{}]}, "mark": {"type": "rule", "color": "#111111", "strokeWidth": 2}, "encoding": {"x": {"datum": -0.041}, "y": {"datum": 0}, "y2": {"datum": 1.44}}},
 {"data": {"values": [{}]}, "mark": {"type": "rule", "color": "#111111", "strokeWidth": 2.5}, "encoding": {"x": {"datum": -0.041}, "x2": {"datum": 5.059}, "y": {"datum": 0}}},
 {"data": {"name": "peaks"}, "transform": [{"filter": "datum.p === 'RI0'"}], "mark": {"type": "text", "fontSize": 16, "fontWeight": "bold", "color": "#111111"}, "encoding": {"x": {"field": "e", "type": "quantitative"}, "y": {"field": "c", "type": "quantitative"}, "text": {"field": "t"}}},
 {"data": {"name": "arrows"}, "transform": [{"filter": "datum.p === 'RI0'"}], "mark": {"type": "rule", "color": "#e0201f", "strokeWidth": 2}, "encoding": {"x": {"field": "e", "type": "quantitative"}, "y": {"field": "c", "type": "quantitative"}, "x2": {"field": "e2"}, "y2": {"field": "c2"}}},
 {"data": {"name": "arrows"}, "transform": [{"filter": "datum.p === 'RI0'"}], "mark": {"type": "point", "shape": "M-0.5,1L0,0L0.5,1", "filled": false, "color": "#e0201f", "strokeWidth": 2, "size": 500, "angle": 210, "opacity": 1}, "encoding": {"x": {"field": "e2", "type": "quantitative"}, "y": {"field": "c2", "type": "quantitative"}}},
 {"data": {"name": "arrows"}, "transform": [{"filter": "datum.p === 'RI0'"}], "mark": {"type": "text", "fontSize": 15, "fontWeight": "bold", "color": "#e0201f"}, "encoding": {"x": {"field": "le", "type": "quantitative"}, "y": {"field": "lc", "type": "quantitative"}, "text": {"value": "Na"}}},
 {"data": {"name": "titles"}, "transform": [{"filter": "datum.p === 'RI0'"}], "mark": {"type": "text", "align": "left", "fontSize": 17.2, "fontWeight": "bold", "color": "#111111"}, "encoding": {"x": {"datum": -0.341}, "y": {"datum": 1.541}, "text": {"field": "title"}}},
 {"data": {"name": "titles"}, "transform": [{"filter": "datum.p === 'RI0'"}], "mark": {"type": "text", "align": "left", "fontSize": 17.2, "fontWeight": "bold", "color": "#111111"}, "encoding": {"x": {"datum": 0.345}, "y": {"datum": 1.474}, "text": {"field": "lsecs"}}},
 {"data": {"name": "titles"}, "transform": [{"filter": "datum.p === 'RI0'"}], "mark": {"type": "text", "align": "right", "fontSize": 17.2, "fontWeight": "bold", "color": "#e0201f", "clip": true}, "encoding": {"x": {"datum": 4.975}, "y": {"datum": 1.553}, "text": {"field": "tag"}}}
]},
{"width": 552, "height": 440, "layer": [
 {"data": {"name": "s4"}, "mark": {"type": "area", "color": "#e0201f", "clip": true},
  "encoding": {
   "x": {"field": "e", "type": "quantitative", "scale": {"domain": [-0.321, 4.747], "nice": false, "zero": false}, "axis": {"values": [0,0.5,1,1.5,2,2.5,3,3.5,4,4.5], "offset": -32.5, "title": "Energy, keV", "titleX": 284, "titlePadding": -1}},
   "y": {"field": "c", "type": "quantitative", "scale": {"domain": [-0.2086, 2.6155], "nice": false, "zero": false}, "axis": {"values": [0,0.466,0.932,1.398,1.864,2.33], "offset": -33.5, "title": "KCnt", "titleX": -32, "titleY": 225}},
   "y2": {"datum": 0}}},
 {"data": {"values": [{}]}, "mark": {"type": "rule", "color": "#111111", "strokeWidth": 2}, "encoding": {"x": {"datum": -0.014}, "y": {"datum": 0}, "y2": {"datum": 2.33}}},
 {"data": {"values": [{}]}, "mark": {"type": "rule", "color": "#111111", "strokeWidth": 2.5}, "encoding": {"x": {"datum": -0.014}, "x2": {"datum": 4.747}, "y": {"datum": 0}}},
 {"data": {"name": "peaks"}, "transform": [{"filter": "datum.p === 'RI300'"}], "mark": {"type": "text", "fontSize": 16, "fontWeight": "bold", "color": "#111111"}, "encoding": {"x": {"field": "e", "type": "quantitative"}, "y": {"field": "c", "type": "quantitative"}, "text": {"field": "t"}}},
 {"data": {"name": "arrows"}, "transform": [{"filter": "datum.p === 'RI300'"}], "mark": {"type": "rule", "color": "#e0201f", "strokeWidth": 2}, "encoding": {"x": {"field": "e", "type": "quantitative"}, "y": {"field": "c", "type": "quantitative"}, "x2": {"field": "e2"}, "y2": {"field": "c2"}}},
 {"data": {"name": "arrows"}, "transform": [{"filter": "datum.p === 'RI300'"}], "mark": {"type": "point", "shape": "M-0.5,1L0,0L0.5,1", "filled": false, "color": "#e0201f", "strokeWidth": 2, "size": 500, "angle": 214, "opacity": 1}, "encoding": {"x": {"field": "e2", "type": "quantitative"}, "y": {"field": "c2", "type": "quantitative"}}},
 {"data": {"name": "arrows"}, "transform": [{"filter": "datum.p === 'RI300'"}], "mark": {"type": "text", "fontSize": 15, "fontWeight": "bold", "color": "#e0201f"}, "encoding": {"x": {"field": "le", "type": "quantitative"}, "y": {"field": "lc", "type": "quantitative"}, "text": {"value": "Na"}}},
 {"data": {"name": "titles"}, "transform": [{"filter": "datum.p === 'RI300'"}], "mark": {"type": "text", "align": "left", "fontSize": 17.2, "fontWeight": "bold", "color": "#111111"}, "encoding": {"x": {"datum": -0.285}, "y": {"datum": 2.474}, "text": {"field": "title"}}},
 {"data": {"name": "titles"}, "transform": [{"filter": "datum.p === 'RI300'"}], "mark": {"type": "text", "align": "left", "fontSize": 17.2, "fontWeight": "bold", "color": "#111111"}, "encoding": {"x": {"datum": 0.404}, "y": {"datum": 2.352}, "text": {"field": "lsecs"}}},
 {"data": {"name": "titles"}, "transform": [{"filter": "datum.p === 'RI300'"}], "mark": {"type": "text", "align": "left", "fontSize": 17.2, "fontWeight": "bold", "color": "#e0201f", "clip": true}, "encoding": {"x": {"datum": 4.343}, "y": {"datum": 2.5}, "text": {"field": "tag"}}}
]}
]}
]
}
